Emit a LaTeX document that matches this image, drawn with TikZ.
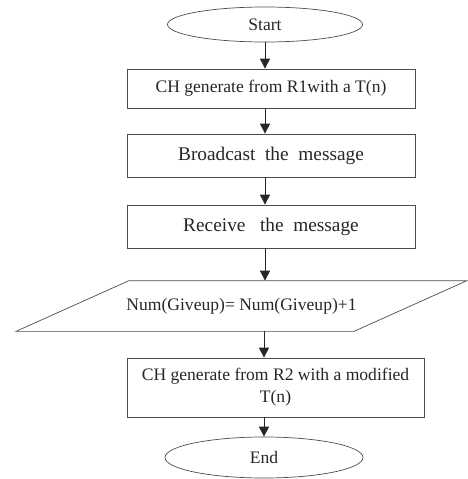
\documentclass[tikz,border=0pt]{standalone}
\usepackage{fontspec}
\setmainfont{Liberation Serif}
\usepackage{tikz}
\usetikzlibrary{arrows.meta, shapes.geometric}

\begin{document}
\begin{tikzpicture}[
        every node/.style={draw=black!70, text=black!85, font=\fontsize{10}{12.5}\selectfont, align=center},
        term/.style={ellipse, inner sep=0pt},
        procbox/.style={rectangle, minimum width=5.76cm},
        iotext/.style={draw=none, minimum width=4.5cm, minimum height=1.0cm},
        iobox/.style={draw=black!70},
        big/.style={font=\fontsize{11}{13}\selectfont},
        arrow/.style={-{Triangle[length=2mm, width=2mm]}, black!85}
    ]
    \useasboundingbox (0,0) rectangle (9.34,-9.58);

    % Nodes
    \node [term, minimum width=3.9cm, minimum height=0.7cm] (start) at (5.30,-0.49) {Start};
    \node [procbox, minimum height=0.78cm] (gen1) at (5.42,-1.77) {CH generate from R1with a T(n)};
    \node [procbox, big, minimum height=0.86cm] (bcast) at (5.42,-3.11) {Broadcast\ \ the\ \ message};
    \node [procbox, big, minimum height=0.86cm] (recv) at (5.42,-4.53) {Receive\ \ \ the\ \ message};
    \node [iotext] (giveup) at (4.83,-6.12) {Num(Giveup)= Num(Giveup)+1};
    \node [rectangle, minimum width=5.94cm, minimum height=1.18cm] (gen2) at (5.51,-7.75)
        {CH generate from R2 with a modified\\T(n)};
    \node [term, minimum width=3.96cm, minimum height=0.82cm] (end) at (5.28,-9.15) {End};

    % Parallelogram round the update step
    \draw[iobox] ([xshift=-2.25cm]giveup.north) -- ([xshift=4.51cm]giveup.north)
        -- ([xshift=2.25cm]giveup.south) -- ([xshift=-4.51cm]giveup.south) -- cycle;

    % Arrows
    \draw[arrow] (start) -- (start |- gen1.north);
    \draw[arrow] (gen1.south -| start) -- (bcast.north -| start);
    \draw[arrow] (bcast.south -| start) -- (recv.north -| start);
    \draw[arrow] (recv.south -| start) -- (giveup.north -| start);
    \draw[arrow] (giveup.south -| end) -- (gen2.north -| end);
    \draw[arrow] (gen2.south -| end) -- (end);

\end{tikzpicture}
\end{document}
